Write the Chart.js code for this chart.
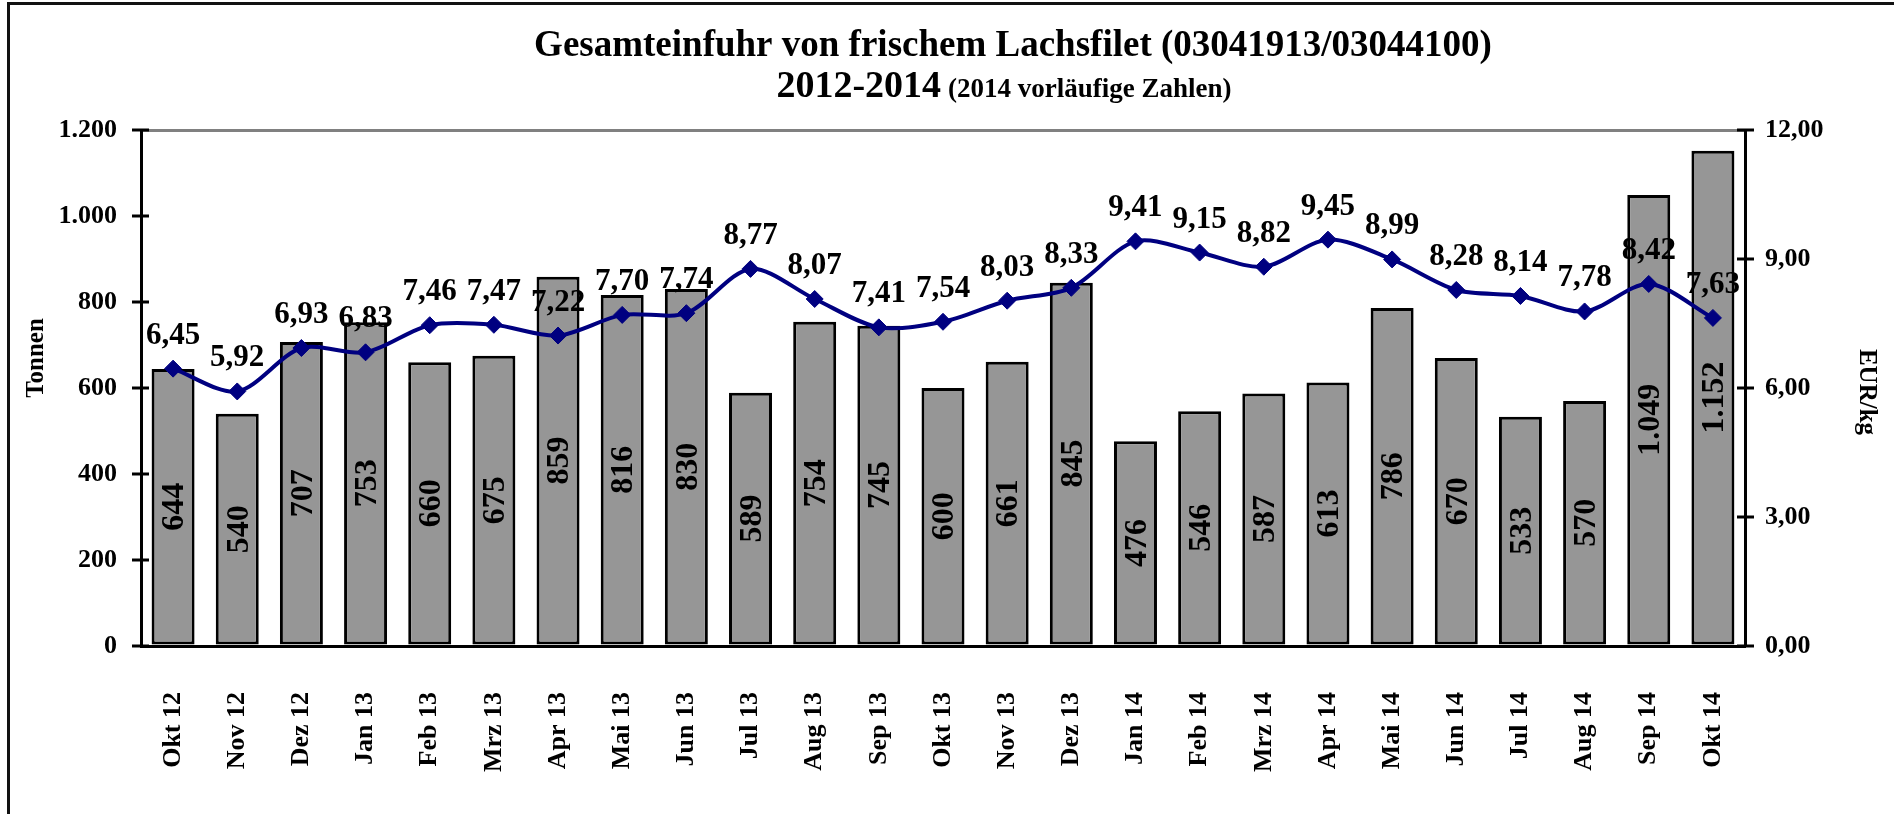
<!DOCTYPE html>
<html>
<head>
<meta charset="utf-8">
<script src="https://cdn.jsdelivr.net/npm/chart.js@4.4.1/dist/chart.umd.min.js"></script>
<style>
  body { margin: 0; background: #fff; }
  #wrap { position: relative; width: 1894px; height: 814px; overflow: hidden; background: #fff; }
  #frame { position: absolute; left: 7px; top: 2px; width: 2000px; height: 1000px; border: 3px solid #111; }
  canvas { position: absolute; left: 0; top: 0; }
</style>
</head>
<body>
<div id="wrap">
  <div id="frame"></div>
  <canvas id="myChart" width="1894" height="814"></canvas>
</div>
<script>
var months = ['Okt 12', 'Nov 12', 'Dez 12', 'Jan 13', 'Feb 13', 'Mrz 13', 'Apr 13', 'Mai 13', 'Jun 13',
              'Jul 13', 'Aug 13', 'Sep 13', 'Okt 13', 'Nov 13', 'Dez 13', 'Jan 14', 'Feb 14', 'Mrz 14',
              'Apr 14', 'Mai 14', 'Jun 14', 'Jul 14', 'Aug 14', 'Sep 14', 'Okt 14'];
var tonnen = [644, 540, 707, 753, 660, 675, 859, 816, 830, 589, 754, 745, 600, 661, 845,
              476, 546, 587, 613, 786, 670, 533, 570, 1049, 1152];
var preise = [6.45, 5.92, 6.93, 6.83, 7.46, 7.47, 7.22, 7.70, 7.74, 8.77, 8.07, 7.41, 7.54, 8.03, 8.33,
              9.41, 9.15, 8.82, 9.45, 8.99, 8.28, 8.14, 7.78, 8.42, 7.63];
var tonnenTicks = [0, 200, 400, 600, 800, 1000, 1200];
var preisTicks = [0, 3, 6, 9, 12];

var titel1 = 'Gesamteinfuhr von frischem Lachsfilet (03041913/03044100)';
var titel2a = '2012-2014';
var titel2b = '(2014 vorläufige Zahlen)';

var serif = '"Liberation Serif", "Times New Roman", serif';

function punkt(n) {
    // 1049 -> 1.049
    var s = String(Math.round(n));
    return s.replace(/\B(?=(\d{3})+(?!\d))/g, '.');
}
function komma(n) {
    return n.toFixed(2).replace('.', ',');
}

const extras = {
    id: 'extras',
    afterDatasetsDraw(chart) {
        const c = chart.ctx;
        c.save();
        c.fillStyle = '#000';
        // Werte in den Balken
        c.font = 'bold 32px ' + serif;
        c.textAlign = 'center';
        c.textBaseline = 'middle';
        chart.getDatasetMeta(0).data.forEach(function(bar, i) {
            c.save();
            c.translate(bar.x, (bar.y + bar.base) / 2);
            c.rotate(-Math.PI / 2);
            c.fillText(punkt(tonnen[i]), 0, 2);
            c.restore();
        });
        // Preise über der Linie
        c.font = 'bold 31px ' + serif;
        c.textBaseline = 'alphabetic';
        chart.getDatasetMeta(1).data.forEach(function(pt, i) {
            c.fillText(komma(preise[i]), pt.x, pt.y - 25);
        });
        c.restore();
    },
    afterDraw(chart) {
        const c = chart.ctx;
        const y = chart.scales.y, y1 = chart.scales.y1;
        const a = chart.chartArea;
        c.save();
        c.strokeStyle = '#000';
        c.lineWidth = 3;
        tonnenTicks.forEach(function(v) {
            const py = y.getPixelForValue(v);
            c.beginPath(); c.moveTo(a.left - 9, py); c.lineTo(a.left + 8, py); c.stroke();
        });
        preisTicks.forEach(function(v) {
            const py = y1.getPixelForValue(v);
            c.beginPath(); c.moveTo(a.right - 8, py); c.lineTo(a.right + 9, py); c.stroke();
        });

        c.fillStyle = '#000';
        // Titel
        c.textBaseline = 'alphabetic';
        c.textAlign = 'center';
        c.font = 'bold 37px ' + serif;
        c.fillText(titel1, 1013, 56);
        c.textAlign = 'left';
        c.font = 'bold 38px ' + serif;
        const w1 = c.measureText(titel2a).width;
        c.font = 'bold 27px ' + serif;
        const w2 = c.measureText(titel2b).width;
        const gap = 7;
        const x0 = 1004 - (w1 + gap + w2) / 2;
        c.font = 'bold 38px ' + serif;
        c.fillText(titel2a, x0, 97);
        c.font = 'bold 27px ' + serif;
        c.fillText(titel2b, x0 + w1 + gap, 97);

        // Achsentitel
        c.font = 'bold 25px ' + serif;
        c.textAlign = 'center';
        c.textBaseline = 'middle';
        c.save();
        c.translate(37, 358);
        c.rotate(-Math.PI / 2);
        c.fillText('Tonnen', 0, 0);
        c.restore();
        c.save();
        c.translate(1866, 392);
        c.rotate(Math.PI / 2);
        c.fillText('EUR/kg', 0, 0);
        c.restore();
        c.restore();
    }
};

const ctx = document.getElementById('myChart');

let chart = new Chart(ctx, {
    type: 'bar',
    data: {
        labels: months,
        datasets: [{
            label: 'Tonnen',
            data: tonnen,
            yAxisID: 'y',
            backgroundColor: '#969696',
            borderColor: '#000',
            borderWidth: 3,
            borderSkipped: false,
            categoryPercentage: 1,
            barPercentage: 0.67,
            order: 1
        }, {
            type: 'line',
            label: 'EUR/kg',
            data: preise,
            yAxisID: 'y1',
            borderColor: '#000080',
            borderWidth: 4,
            pointStyle: 'rectRot',
            pointRadius: 8.5,
            pointBackgroundColor: '#000080',
            pointBorderColor: '#000080',
            pointBorderWidth: 1,
            tension: 0.3,
            order: 0
        }]
    },
    options: {
        responsive: false,
        animation: false,
        events: [],
        layout: { padding: { top: 130, left: 0, right: 0, bottom: 0 } },
        plugins: {
            legend: { display: false },
            title: { display: false },
            tooltip: { enabled: false }
        },
        scales: {
            x: {
                grid: { display: true, color: 'transparent', drawTicks: false },
                border: { display: true, color: '#000', width: 3 },
                ticks: {
                    color: '#000',
                    font: { family: serif, size: 26, weight: 'bold' },
                    minRotation: 90,
                    maxRotation: 90,
                    autoSkip: false,
                    padding: 46
                },
                afterFit: function(s) { s.height = 168; }
            },
            y: {
                position: 'left',
                min: 0,
                max: 1200,
                afterBuildTicks: function(s) { s.ticks = tonnenTicks.map(function(v) { return { value: v }; }); },
                grid: {
                    drawTicks: false,
                    lineWidth: 3,
                    color: function(c) { return c.tick && c.tick.value === 1200 ? '#808080' : 'transparent'; }
                },
                border: { display: true, color: '#000', width: 3 },
                ticks: {
                    color: '#000',
                    font: { family: serif, size: 26, weight: 'bold' },
                    padding: 24,
                    callback: function(v) { return punkt(v); }
                },
                afterFit: function(s) { s.width = 141; }
            },
            y1: {
                position: 'right',
                min: 0,
                max: 12,
                afterBuildTicks: function(s) { s.ticks = preisTicks.map(function(v) { return { value: v }; }); },
                grid: { drawOnChartArea: false, drawTicks: false },
                border: { display: true, color: '#000', width: 3 },
                ticks: {
                    color: '#000',
                    font: { family: serif, size: 26, weight: 'bold' },
                    padding: 20,
                    callback: function(v) { return komma(v); }
                },
                afterFit: function(s) { s.width = 149; }
            }
        }
    },
    plugins: [extras]
});
</script>
</body>
</html>
